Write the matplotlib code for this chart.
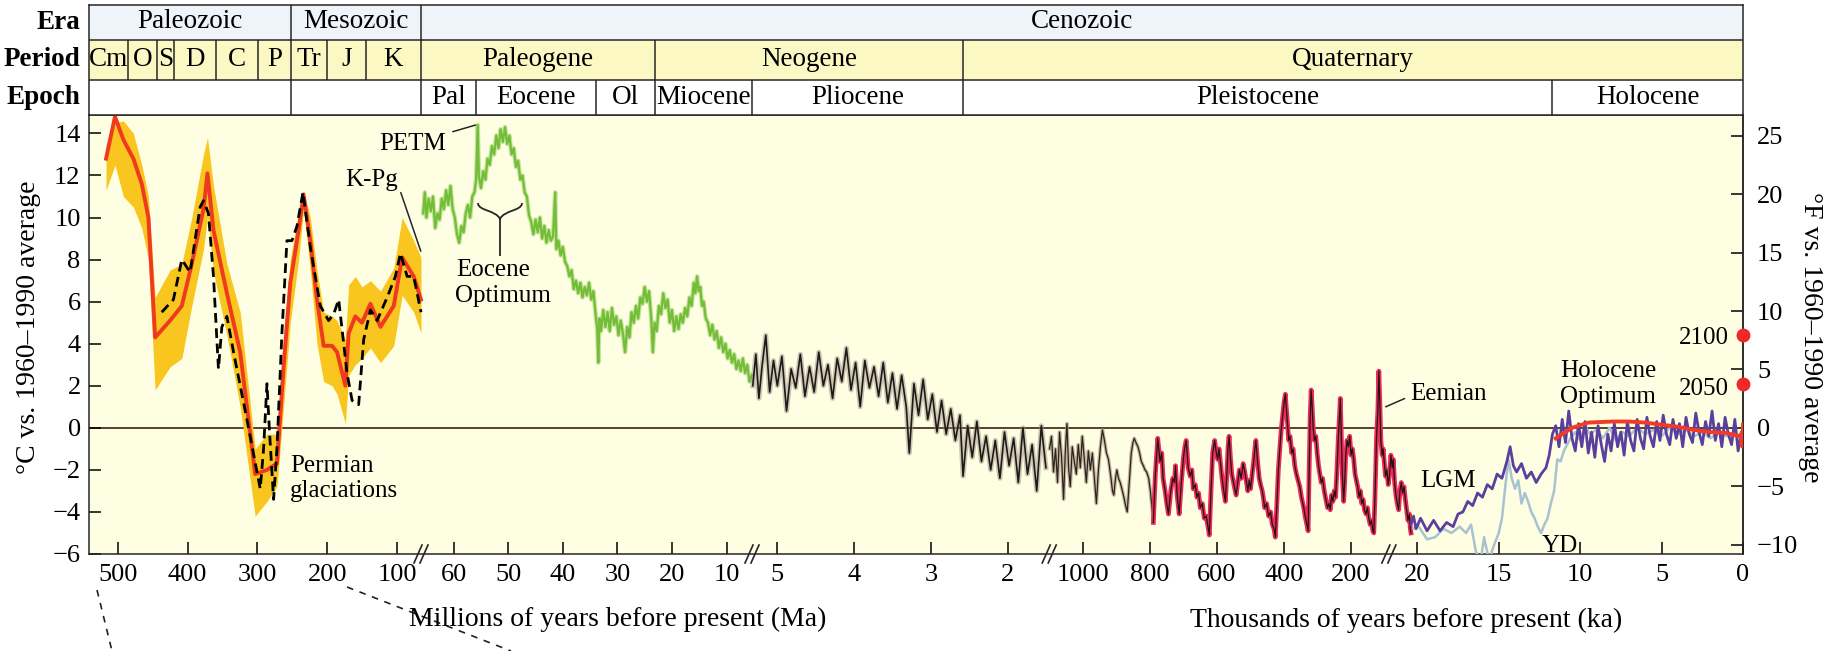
import numpy as np
import matplotlib
matplotlib.use('Agg')
import matplotlib.pyplot as plt
import matplotlib.transforms as mtransforms
from matplotlib.path import Path
from matplotlib.patches import PathPatch
from matplotlib.ticker import NullLocator, FixedLocator, FixedFormatter

plt.rcParams['font.family'] = ['Liberation Serif', 'DejaVu Serif']

# ---------------- data (ages in Ma unless noted, temps in deg C vs 1960-1990) ----------------
# geologic time scale for the header table
eras = ['Paleozoic', 'Mesozoic', 'Cenozoic']
era_bounds = [541, 252, 66, 0]
periods = ['Cm', 'O', 'S', 'D', 'C', 'P', 'Tr', 'J', 'K', 'Paleogene', 'Neogene', 'Quaternary']
period_bounds = [541, 485, 444, 419, 359, 299, 252, 201, 145, 66, 23.03, 2.58, 0]
epochs = ['', '', 'Pal', 'Eocene', 'Ol', 'Miocene', 'Pliocene', 'Pleistocene', 'Holocene']
epoch_bounds = [541, 252, 66, 56, 33.9, 23.03, 5.33, 2.58, 0.0117, 0]

# Phanerozoic: red line with yellow uncertainty band
pz_age = [516.6, 503.8, 491.8, 477.5, 465.5, 456, 446.4, 425, 408.2, 393.9, 377.2, 371.5, 362.9,
          343.7, 324.7, 303.2, 286.4, 272.1, 262.6, 253, 241.1, 234, 224.4, 214.8, 205.3, 193.3,
          186.1, 174.2, 169.5, 160, 150.4, 138.4, 124, 105, 93, 76.4, 66]
pz_red = [12.8, 14.8, 13.7, 12.8, 11.6, 10.0, 4.3, 5.1, 5.8, 7.8, 10.4, 12.1, 9.4, 6.4, 3.6, -2.2,
          -2.0, -1.7, 2.9, 6.9, 9.4, 11.1, 8.9, 6.1, 3.9, 3.9, 3.6, 2.0, 4.5, 5.3, 5.0, 5.9, 4.8,
          5.8, 8.1, 7.2, 6.1]
pz_hi = [13.5, 14.5, 14.6, 14.0, 12.5, 11.0, 6.2, 7.5, 7.8, 10.0, 13.0, 13.8, 11.5, 7.8, 5.5, -1.0,
         -0.3, -0.3, 4.5, 8.0, 10.3, 11.3, 10.0, 7.5, 5.5, 5.3, 5.1, 4.2, 6.8, 7.2, 6.7, 7.0, 6.5,
         7.6, 10.0, 8.9, 8.1]
pz_lo = [11.3, 12.5, 11.0, 10.5, 9.5, 8.0, 1.8, 2.9, 3.3, 5.8, 8.5, 10.0, 7.4, 4.4, 1.0, -4.2,
         -3.5, -2.8, 1.0, 5.0, 8.0, 10.4, 7.5, 4.0, 2.2, 2.0, 1.6, 0.2, 2.5, 3.0, 3.3, 3.8, 3.1,
         3.9, 6.3, 5.5, 4.5]
# Phanerozoic: black dashed series
pzd_age = [436.9, 420.2, 408.2, 396.3, 382, 377.2, 370.1, 362.9, 355.8, 350.9, 343.7, 334.2,
           315.1, 296, 291.2, 286.4, 282.7, 276.9, 272.1, 265, 257.8, 250.6, 243.4, 234.9, 224.4,
           210.1, 198.2, 191, 183.8, 171.8, 164.6, 155.2, 148, 138.4, 128.8, 114.5, 102.6, 95.4,
           85.8, 76.4, 66]
pzd_t = [5.5, 6.1, 8.0, 7.4, 10.5, 10.8, 10.2, 7.2, 2.8, 4.8, 5.3, 3.6, 0.4, -2.9, -1.0, 2.1,
         -0.2, -3.4, -1.0, 4.5, 8.9, 8.9, 9.6, 11.2, 8.6, 5.8, 5.1, 5.4, 6.1, 2.6, 1.3, 1.1, 4.2,
         5.6, 5.1, 6.2, 7.2, 8.3, 7.2, 7.2, 5.5]

# Cenozoic benthic record (green), (age Ma, T)
cenozoic = [
    (65.6, 10.2), (65.3, 11.2), (65.0, 10.0), (64.6, 10.9), (64.2, 10.3), (63.8, 11.0),
    (63.4, 9.5), (63.0, 10.2), (62.6, 9.9), (62.2, 10.9), (61.8, 10.4), (61.4, 11.3),
    (61.0, 10.6), (60.6, 11.5), (60.2, 10.4), (59.8, 10.0), (59.4, 9.2), (59.0, 8.8),
    (58.6, 9.6), (58.2, 9.3), (57.8, 10.2), (57.4, 10.6), (57.0, 10.0), (56.6, 11.0),
    (56.2, 11.2), (55.9, 11.8), (55.6, 14.4), (55.4, 12.0), (55.0, 11.4), (54.6, 12.2),
    (54.2, 11.8), (53.8, 12.8), (53.4, 12.5), (53.0, 13.4), (52.6, 13.0), (52.2, 13.9),
    (51.8, 13.3), (51.4, 14.2), (51.0, 13.6), (50.6, 14.3), (50.2, 13.5), (49.8, 13.9),
    (49.4, 13.0), (49.0, 13.3), (48.6, 12.4), (48.2, 12.7), (47.8, 11.8), (47.4, 12.0),
    (47.0, 11.2), (46.6, 11.0), (46.2, 10.1), (45.8, 9.8), (45.4, 9.2), (45.0, 9.9),
    (44.6, 9.3), (44.2, 10.0), (43.8, 9.0), (43.4, 9.6), (43.0, 8.8), (42.6, 9.4),
    (42.2, 8.9), (41.8, 9.1), (41.4, 11.2), (41.2, 8.5), (40.8, 8.9), (40.4, 8.2),
    (40.0, 8.6), (39.6, 7.9), (39.2, 7.7), (38.8, 7.2), (38.4, 7.5), (38.0, 6.6),
    (37.6, 7.0), (37.2, 6.4), (36.8, 6.9), (36.4, 6.2), (36.0, 6.7), (35.6, 6.3),
    (35.2, 6.9), (34.8, 6.1), (34.4, 6.5), (34.0, 5.4), (33.7, 4.7), (33.5, 3.1),
    (33.3, 5.2), (33.0, 4.6), (32.6, 5.6), (32.2, 4.8), (31.8, 5.5), (31.4, 4.6),
    (31.0, 5.7), (30.6, 4.9), (30.2, 5.3), (29.8, 4.4), (29.4, 5.1), (29.0, 4.5),
    (28.6, 3.6), (28.2, 4.8), (27.8, 4.3), (27.4, 5.5), (27.0, 5.0), (26.6, 5.8),
    (26.2, 5.2), (25.8, 6.2), (25.4, 5.9), (25.0, 6.7), (24.6, 6.0), (24.2, 6.5),
    (23.8, 5.2), (23.5, 3.6), (23.2, 5.0), (22.8, 4.6), (22.4, 5.8), (22.0, 5.4),
    (21.6, 6.4), (21.2, 5.7), (20.8, 6.1), (20.4, 5.0), (20.0, 5.6), (19.6, 4.6),
    (19.2, 5.3), (18.8, 4.7), (18.4, 5.4), (18.0, 5.0), (17.6, 5.7), (17.2, 5.3),
    (16.8, 6.2), (16.4, 5.8), (16.0, 6.9), (15.7, 6.4), (15.4, 7.2), (15.1, 6.5),
    (14.8, 6.7), (14.5, 5.8), (14.2, 6.0), (13.8, 5.2), (13.4, 5.0), (13.0, 4.4),
    (12.6, 4.9), (12.2, 4.2), (11.8, 4.6), (11.4, 3.8), (11.0, 4.3), (10.6, 3.6),
    (10.2, 4.0), (9.8, 3.3), (9.4, 3.7), (9.0, 3.1), (8.6, 3.5), (8.2, 2.8),
    (7.8, 3.2), (7.4, 2.7), (7.0, 3.3), (6.6, 2.6), (6.2, 3.0), (5.8, 2.2), (5.4, 2.5)]

# Pliocene - early Pleistocene (black), (age Ma, T)
pliocene = [
    (5.32, 2.0), (5.28, 3.5), (5.24, 1.4), (5.20, 2.9), (5.15, 4.4), (5.10, 1.7), (5.05, 3.2),
    (5.00, 2.0), (4.94, 3.4), (4.88, 0.8), (4.82, 2.8), (4.76, 1.9), (4.70, 3.5), (4.64, 1.5),
    (4.58, 2.9), (4.52, 1.7), (4.46, 3.6), (4.40, 2.0), (4.34, 3.0), (4.28, 1.4), (4.22, 3.3),
    (4.16, 2.2), (4.10, 3.8), (4.04, 1.8), (3.98, 3.1), (3.92, 1.0), (3.86, 3.2), (3.80, 1.9),
    (3.74, 2.9), (3.68, 1.5), (3.62, 3.1), (3.56, 1.2), (3.50, 2.6), (3.44, 0.9), (3.38, 2.5),
    (3.32, 1.0), (3.28, -1.2), (3.22, 2.1), (3.16, 0.6), (3.10, 2.3), (3.04, 0.4), (2.98, 1.6),
    (2.92, -0.2), (2.86, 1.3), (2.80, -0.3), (2.74, 0.9), (2.68, -0.6), (2.62, 0.6),
    (2.58, -2.3), (2.52, 0.1), (2.46, -1.4), (2.40, 0.3), (2.34, -1.6), (2.28, -0.4),
    (2.22, -2.0), (2.16, -0.6), (2.10, -2.4), (2.04, -0.2), (1.98, -1.8), (1.92, -0.5),
    (1.86, -2.6), (1.80, 0.0), (1.74, -2.2), (1.68, -0.8), (1.62, -3.0), (1.56, 0.1),
    (1.50, -1.9)]

# 1100-790 ka (brown/black), (age ka, T)
early_ka = [
    (1100, -1.0), (1094, -0.4), (1088, -2.1), (1082, -1.0), (1076, -2.6), (1070, -0.2),
    (1064, -1.4), (1058, -3.4), (1053, -1.2), (1048, 0.2), (1043, -1.9), (1038, -2.8),
    (1032, -0.9), (1026, -1.6), (1020, -2.2), (1014, -0.8), (1008, -1.9), (1002, -0.4),
    (996, -1.5), (990, -2.6), (984, -1.1), (978, -2.0), (972, -1.2), (966, -2.4),
    (960, -3.6), (954, -2.0), (948, -0.9), (942, -0.1), (936, -0.6), (930, -1.2),
    (924, -1.5), (918, -2.2), (912, -3.0), (908, -3.2), (903, -2.4), (899, -2.0),
    (894, -2.4), (889, -2.6), (884, -2.9), (878, -3.3), (873, -3.7), (868, -4.0),
    (862, -2.6), (856, -1.2), (851, -0.7), (847, -0.5), (842, -0.7), (836, -0.9),
    (831, -1.2), (826, -1.6), (820, -1.8), (815, -2.0), (810, -2.1), (804, -2.4),
    (799, -3.0), (794, -3.8), (790, -4.5)]

# 790-21 ka glacial cycles (red), (age ka, T)
glacial_ka = [
    (790, -4.5), (784, -2.2), (777, -0.5), (770, -1.6), (765, -1.2), (761, -2.4), (755, -3.0),
    (750, -3.6), (745, -4.1), (738, -3.0), (732, -2.4), (727, -2.6), (724, -1.8), (719, -3.2),
    (713, -4.1), (706, -2.5), (700, -1.4), (696, -0.9), (692, -0.6), (686, -1.9), (680, -2.3),
    (675, -2.0), (671, -2.9), (665, -2.7), (660, -3.3), (655, -3.1), (650, -3.8), (644, -3.6),
    (638, -4.3), (632, -4.2), (627, -4.7), (623, -5.1), (618, -3.0), (613, -1.2), (610, -0.9),
    (607, -0.6), (603, -1.1), (598, -1.5), (594, -1.0), (590, -1.6), (585, -2.4), (580, -3.0),
    (575, -3.5), (570, -2.0), (567, -0.9), (564, -0.4), (560, -1.4), (556, -2.2), (551, -2.6),
    (547, -2.9), (543, -3.2), (538, -2.6), (533, -2.0), (528, -2.4), (522, -1.7), (517, -2.1),
    (512, -2.6), (508, -3.0), (504, -2.5), (500, -2.9), (495, -2.2), (490, -1.5), (487, -1.0),
    (484, -0.6), (479, -1.6), (474, -2.4), (470, -2.7), (465, -3.0), (461, -3.4), (458, -3.8),
    (452, -3.6), (446, -4.2), (440, -4.0), (435, -4.6), (430, -4.8), (426, -5.2), (421, -3.5),
    (417, -2.0), (413, -1.1), (409, -0.2), (405, 0.4), (400, 1.2), (396, 1.6), (394, 1.1),
    (390, 0.3), (386, -0.6), (382, -0.4), (377, -1.2), (373, -1.0), (368, -1.8), (363, -2.2),
    (358, -2.5), (353, -2.8), (348, -3.3), (344, -3.6), (341, -3.8), (337, -4.2), (333, -4.5),
    (328, -4.9), (325, -2.0), (322, 0.5), (319, 1.8), (316, 1.0), (313, 0.0), (309, -0.6),
    (305, -0.4), (301, -1.2), (297, -1.8), (293, -2.2), (289, -2.6), (285, -2.4), (280, -3.0),
    (275, -3.4), (270, -3.8), (266, -3.6), (262, -3.9), (258, -3.2), (254, -3.5), (250, -3.0),
    (246, -3.3), (242, -2.0), (238, -0.5), (235, 0.4), (232, 1.4), (229, -0.4), (226, -2.2),
    (222, -3.5), (219, -2.6), (216, -1.4), (212, -0.6), (208, -0.9), (204, -0.4), (200, -1.3),
    (196, -1.0), (192, -1.5), (188, -2.2), (184, -2.5), (180, -2.8), (176, -3.3), (172, -3.0),
    (168, -3.6), (164, -3.4), (160, -3.9), (155, -4.1), (151, -3.8), (147, -4.3), (143, -4.6),
    (139, -4.4), (135, -4.9), (132, -5.0), (128, -3.0), (124, -0.5), (120, 0.8), (117, 2.7),
    (114, 1.2), (111, -0.6), (107, -1.3), (104, -1.0), (101, -1.6), (97, -2.3), (93, -2.0),
    (89, -2.7), (85, -2.2), (81, -1.3), (77, -1.9), (74, -1.5), (70, -2.6), (66, -3.2),
    (62, -3.6), (58, -3.9), (54, -3.0), (50, -2.6), (46, -3.1), (42, -2.8), (38, -3.4),
    (34, -3.9), (30, -4.4), (26, -4.1), (23, -4.8), (21, -5.0)]

# last 21 ka: Antarctic (purple), Greenland (light blue), Holocene stack (red), (age ka, T)
antarctic_ka = [
    (21.0, -4.6), (20.6, -4.2), (20.2, -4.8), (19.8, -4.3), (19.4, -4.9), (19.0, -4.4),
    (18.6, -4.9), (18.2, -4.5), (17.8, -4.7), (17.5, -4.1), (17.2, -4.0), (16.9, -3.5),
    (16.6, -3.7), (16.3, -3.1), (16.0, -3.3), (15.7, -2.7), (15.4, -2.9), (15.1, -2.2),
    (14.8, -2.4), (14.5, -1.6), (14.3, -0.9), (14.1, -1.8), (13.9, -2.1), (13.6, -1.7),
    (13.3, -2.4), (13.0, -2.1), (12.7, -2.6), (12.4, -2.2), (12.1, -1.9), (11.9, -1.3),
    (11.7, -0.3), (11.5, 0.1), (11.3, -0.9), (11.1, 0.4), (10.9, -0.7), (10.7, 0.8),
    (10.5, -0.5), (10.3, -1.1), (10.1, 0.2), (9.9, -0.9), (9.7, 0.3), (9.5, -1.2),
    (9.3, -0.2), (9.1, -1.4), (8.9, 0.1), (8.7, -0.8), (8.5, -1.6), (8.3, -0.3), (8.1, -1.1),
    (7.9, 0.2), (7.7, -0.9), (7.5, -0.2), (7.3, -1.3), (7.1, 0.3), (6.9, -0.6), (6.7, -1.1),
    (6.5, 0.4), (6.3, -0.5), (6.1, -1.0), (5.9, 0.5), (5.7, -0.4), (5.5, -0.9), (5.3, 0.3),
    (5.1, -0.6), (4.9, 0.6), (4.7, -0.3), (4.5, -0.8), (4.3, 0.4), (4.1, -0.5), (3.9, 0.2),
    (3.7, -0.9), (3.5, 0.5), (3.3, -0.3), (3.1, -0.7), (2.9, 0.7), (2.7, -0.2), (2.5, -0.8),
    (2.3, 0.3), (2.1, -0.4), (1.9, 0.8), (1.7, -0.6), (1.5, 0.2), (1.3, -0.9), (1.1, 0.5),
    (0.9, -0.3), (0.7, -0.8), (0.5, 0.4), (0.3, -1.1), (0.1, -0.2), (0.0, -0.6)]
greenland_ka = [
    (20.6, -4.8), (20.0, -4.6), (19.4, -5.3), (18.9, -5.2), (18.4, -4.8), (17.9, -5.0),
    (17.4, -4.7), (17.0, -5.0), (16.7, -4.6), (16.4, -5.9), (16.1, -6.3), (15.9, -5.2),
    (15.6, -6.3), (15.3, -5.6), (15.0, -5.0), (14.8, -4.3), (14.6, -2.8), (14.4, -1.5),
    (14.2, -2.4), (14.0, -2.9), (13.8, -2.5), (13.6, -3.6), (13.4, -3.1), (13.2, -3.5),
    (13.0, -4.0), (12.8, -4.3), (12.6, -4.7), (12.4, -5.0), (12.2, -4.6), (12.0, -4.3),
    (11.8, -3.6), (11.6, -3.0), (11.4, -1.5), (11.2, -1.6), (11.0, -1.1), (10.8, -0.8),
    (10.6, -0.5), (10.3, -0.2), (10.0, -0.6), (9.7, 0.1), (9.4, -0.3), (9.0, -0.1),
    (8.6, -0.5), (8.2, 0.0), (7.8, -0.6), (7.4, -0.2), (7.0, -0.4), (6.5, 0.0), (6.0, -0.3),
    (5.5, -0.1), (5.0, -0.4), (4.5, 0.0), (4.0, -0.3), (3.5, -0.1), (3.0, -0.4), (2.5, -0.2),
    (2.0, -0.5), (1.5, -0.2), (1.0, -0.4), (0.5, -0.3), (0.0, -0.4)]
holocene_ka = [
    (11.5, -0.5), (10.5, 0.0), (9.5, 0.25), (8.0, 0.3), (7.0, 0.3), (6.0, 0.25), (5.0, 0.15),
    (4.0, 0.05), (3.0, -0.1), (2.0, -0.2), (1.0, -0.25), (0.2, -0.4), (0.12, -0.3),
    (0.08, -0.85), (0.05, -0.2), (0.03, -0.9), (0.0, 0.15)]

# projections
proj_years = ['2050', '2100']
proj_t = [2.1, 4.4]

# axis ticks
xtick_ma = [500, 400, 300, 200, 100, 60, 50, 40, 30, 20, 10, 5, 4, 3, 2,
            1.0, 0.8, 0.6, 0.4, 0.2, 0.020, 0.015, 0.010, 0.005, 0.0]
xtick_lbl = ['500', '400', '300', '200', '100', '60', '50', '40', '30', '20', '10', '5', '4',
             '3', '2', '1000', '800', '600', '400', '200', '20', '15', '10', '5', '0']
axis_breaks = [66, 5.33, 1.3, 0.087]

# ---------------- piecewise time scale (older = left) ----------------
W, H = 1836, 651
knot_age = np.array([541, 66, 5.33, 1.46, 1.10, 0.021, 0.020, 0.0])
knot_pos = np.array([89, 421, 752, 1049, 1049.5, 1411, 1417.3, 1743])


# forward is increasing with age (-pos), so the axis is drawn inverted (old on the left)
def fwd(a):
    return -np.interp(-np.asarray(a, float), -knot_age, knot_pos)


def inv(p):
    return -np.interp(-np.asarray(p, float), knot_pos, -knot_age)


fig = plt.figure(figsize=(W / 100, H / 100), dpi=100)
pxt = mtransforms.Affine2D().scale(1 / W, -1 / H).translate(0, 1) + fig.transFigure


def fx(x):
    return x / W


def fy(y):
    return 1 - y / H


L, R, TOP, BOT = 89, 1743, 114.5, 554
ax = fig.add_axes([L / W, 1 - BOT / H, (R - L) / W, (BOT - TOP) / H])
ax.set_xscale('function', functions=(fwd, inv))
ax.set_facecolor('#fefee3')

line_c = '#262626'
for s in ax.spines.values():
    s.set_linewidth(1.1)
    s.set_color(line_c)

ax.xaxis.set_major_locator(FixedLocator(xtick_ma))
ax.xaxis.set_major_formatter(FixedFormatter(xtick_lbl))
ax.xaxis.set_minor_locator(NullLocator())
ax.set_yticks(range(-6, 15, 2))
ax.tick_params(axis='x', direction='in', length=9, width=1.1, pad=7, labelsize=19)
ax.tick_params(axis='y', direction='in', length=8.5, width=1.1, pad=6, labelsize=19)
ax.set_xlim(541, 0)
ax.set_ylim(-6, 14.9)

sec = ax.secondary_yaxis('right', functions=(lambda c: c * 1.8, lambda f: f / 1.8))
sec.set_yticks([-10, -5, 0, 5, 10, 15, 20, 25])
sec.tick_params(direction='in', length=9, width=1.1, pad=10, labelsize=19)
sec.spines['right'].set_linewidth(1.1)
sec.spines['right'].set_color(line_c)

ax.axhline(0, color='#4a3322', lw=1.3, zorder=1.5)

# ---------------- data drawing ----------------
ax.fill_between(pz_age, pz_lo, pz_hi, color='#f9c51f', lw=0, zorder=2)
ax.plot(pz_age, pz_red, color='#ef3a20', lw=2.8, zorder=3)
ax.plot(pzd_age, pzd_t, color='black', lw=2.0, ls=(0, (3.5, 2)), zorder=4)

g = np.array(cenozoic)
ax.plot(g[:, 0], g[:, 1], color='#9fd36a', lw=3.2, alpha=0.6, zorder=3)
ax.plot(g[:, 0], g[:, 1], color='#74bd38', lw=1.6, zorder=3)

p = np.array(pliocene)
ax.plot(p[:, 0], p[:, 1], color='#9e8e80', lw=3.6, alpha=0.5, zorder=3)
ax.plot(p[:, 0], p[:, 1], color='#1e1a18', lw=1.2, zorder=3)

e = np.array(early_ka)
ax.plot(e[:, 0] / 1000, e[:, 1], color='#b09a84', lw=2.6, alpha=0.7, zorder=3)
ax.plot(e[:, 0] / 1000, e[:, 1], color='#2a2420', lw=0.9, zorder=3)

gl = np.array(glacial_ka)
ax.plot(gl[:, 0] / 1000, gl[:, 1], color='#ec2b58', lw=3.4, zorder=3)
ax.plot(gl[:, 0] / 1000, gl[:, 1], color='#1e1416', lw=0.9, zorder=4)

gr = np.array(greenland_ka)
ax.plot(gr[:, 0] / 1000, gr[:, 1], color='#a8c2cf', lw=1.8, zorder=3)
an = np.array(antarctic_ka)
ax.plot(an[:, 0] / 1000, an[:, 1], color='#5b3f9e', lw=2.0, zorder=4)
ho = np.array(holocene_ka)
ax.plot(ho[:, 0] / 1000, ho[:, 1], color='#f23b26', lw=2.8, zorder=5)

ax.plot([0] * len(proj_t), proj_t, 'o', color='#f02828', ms=9, clip_on=False, zorder=6)
ax.set_xlim(541, 0)

# ---------------- header table ----------------
hx = fig.add_axes([L / W, 1 - TOP / H, (R - L) / W, (TOP - 4.5) / H], sharex=ax)
hx.set_ylim(0, 110)
hx.tick_params(which='both', bottom=False, top=False, left=False, right=False,
               labelbottom=False, labelleft=False)
for s in hx.spines.values():
    s.set_linewidth(1.1)
    s.set_color(line_c)
rows = [(eras, era_bounds, 75, 110, '#eef4fa'),
        (periods, period_bounds, 35, 75, '#fbf8c4'),
        (epochs, epoch_bounds, 0, 35, 'white')]
for names, bounds, y0, y1, col in rows:
    hx.axhspan(y0, y1, color=col, lw=0)
    hx.vlines(bounds[1:-1], y0, y1, colors=line_c, lw=1.1)
    for name, a, b in zip(names, bounds[:-1], bounds[1:]):
        if name:
            mid = inv((fwd(a) + fwd(b)) / 2)
            hx.text(mid, (y0 + y1) / 2, name, ha='center', va='center', fontsize=19.5)
hx.axhline(35, color=line_c, lw=1.1)
hx.axhline(75, color=line_c, lw=1.1)
ax.set_xlim(541, 0)

for txt, y in [('Era', 22.5), ('Period', 60), ('Epoch', 97.5)]:
    fig.text(fx(80), fy(y), txt, ha='right', va='center', fontsize=19.5, fontweight='bold')

# ---------------- axis labels ----------------
fig.text(fx(29), fy(327), '°C vs. 1960–1990 average', rotation=90, ha='center', va='center',
         fontsize=20)
fig.text(fx(1811), fy(337), '°F vs. 1960–1990 average', rotation=270, ha='center',
         va='center', fontsize=20)
fig.text(fx(618), fy(619), 'Millions of years before present (Ma)', ha='center', va='center',
         fontsize=20)
fig.text(fx(1406), fy(620), 'Thousands of years before present (ka)', ha='center',
         va='center', fontsize=20)

# axis break marks
for b in axis_breaks:
    xb = ax.transData.transform((b, 0))[0]
    for off in (-3, 3):
        fig.add_artist(plt.Line2D([xb + off - 4, xb + off + 4], [563, 545], transform=pxt,
                                  color=line_c, lw=1.2))

# perspective lines to the panel below
for (x0, y0), (x1, y1) in [((97, 590), (112, 651)), ((347, 587), (511, 651))]:
    fig.add_artist(plt.Line2D([x0, x1], [y0, y1], transform=pxt, color='#222222', lw=1.2,
                              ls=(0, (4, 4))))

# ---------------- annotations ----------------
ann = dict(fontsize=18, textcoords='figure fraction', annotation_clip=False)
ax.annotate('PETM', xy=(56.0, 14.4), xytext=(fx(446), fy(143.5)), ha='right', va='center',
            arrowprops=dict(arrowstyle='-', lw=1.1, color=line_c, shrinkA=3, shrinkB=0), **ann)
ax.annotate('K-Pg', xy=(66.3, 8.4), xytext=(fx(398), fy(180)), ha='right', va='center',
            arrowprops=dict(arrowstyle='-', lw=1.1, color=line_c, shrinkA=0, shrinkB=0,
                            relpos=(1, 0.3)), **ann)
ax.annotate('Eemian', xy=(0.0964, 1.0), xytext=(fx(1410), fy(394)), ha='left', va='center',
            arrowprops=dict(arrowstyle='-', lw=1.1, color=line_c, shrinkA=2, shrinkB=0,
                            relpos=(0, 0.4)), **ann)

for txt, x, y, ha in [('Eocene', 456, 270, 'left'), ('Optimum', 455, 296, 'left'),
                      ('Permian', 290, 466, 'left'), ('glaciations', 290, 491, 'left'),
                      ('LGM', 1420, 481, 'left'), ('YD', 1542, 546, 'left'),
                      ('Holocene', 1560, 371.5, 'left'), ('Optimum', 1560, 397, 'left')]:
    fig.text(fx(x), fy(y), txt, ha=ha, va='center', fontsize=18)
for yr, y in zip(proj_years, [389, 338]):
    fig.text(fx(1729), fy(y), yr, ha='right', va='center', fontsize=18)

# brace for the Eocene Optimum
brace = Path([(478, 203), (478, 211), (496, 210), (500, 219),
              (522, 203), (522, 211), (504, 210), (500, 219),
              (500, 219), (500, 256)],
             [Path.MOVETO, Path.CURVE4, Path.CURVE4, Path.CURVE4,
              Path.MOVETO, Path.CURVE4, Path.CURVE4, Path.CURVE4,
              Path.MOVETO, Path.LINETO])
fig.add_artist(PathPatch(brace, transform=pxt, fill=False, lw=1.3, color=line_c))

fig.savefig('out.png', dpi=100, facecolor='white')
